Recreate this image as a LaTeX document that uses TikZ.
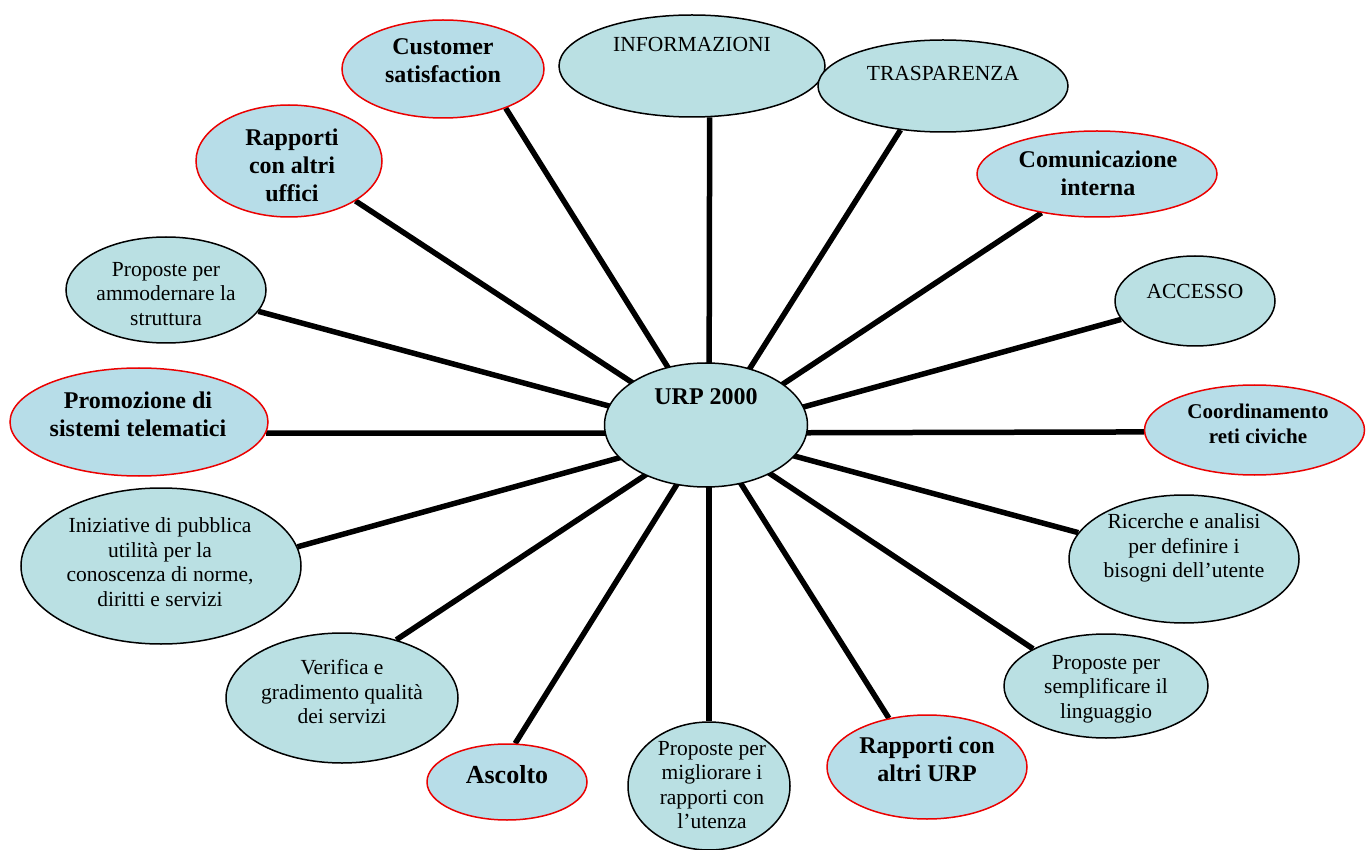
\documentclass[tikz,border=0pt]{standalone}
\usepackage{fontspec}
\setmainfont{Liberation Serif}
\usetikzlibrary{shapes.geometric,backgrounds}
\definecolor{bfill}{RGB}{186,224,227}
\definecolor{rfill}{RGB}{183,221,232}
\definecolor{rline}{RGB}{235,0,0}
\tikzset{
 bub/.style={ellipse, draw=black, line width=1.5pt, fill=bfill, inner sep=0pt},
 rbub/.style={ellipse, draw=rline, line width=1.5pt, fill=rfill, inner sep=0pt},
 sz/.style 2 args={minimum width=#1, minimum height=#2},
 btxt/.style={font=\bfseries\fontsize{24}{28}\selectfont, align=center, inner sep=0pt},
 ctxt/.style={font=\bfseries\fontsize{21}{25}\selectfont, align=center, inner sep=0pt},
 atxt/.style={font=\bfseries\fontsize{26}{30}\selectfont, align=center, inner sep=0pt},
 rtxt/.style={font=\fontsize{21.5}{24.5}\selectfont, align=center, inner sep=0pt},
 spoke/.style={line width=5.5pt}
}
\begin{document}
\begin{tikzpicture}[x=1pt,y=-1pt]
\useasboundingbox (0,0) rectangle (1366,850);
\coordinate (hub) at (709,433);
% bubbles
\node[bub, sz={203pt}{124pt}] (urp) at (706,425) {};
\node[bub, sz={266pt}{102pt}] (info) at (692,66) {};
\node[bub, sz={250pt}{92pt}] (tras) at (943,86) {};
\node[rbub, sz={202pt}{98pt}] (cust) at (443,69) {};
\node[rbub, sz={186pt}{112pt}] (uff) at (289,161) {};
\node[rbub, sz={240pt}{86pt}] (com) at (1097,174) {};
\node[bub, sz={200pt}{106pt}] (amm) at (166,290) {};
\node[bub, sz={160pt}{90pt}] (acc) at (1195,301) {};
\node[rbub, sz={258pt}{108pt}] (prom) at (139,422) {};
\node[rbub, sz={220pt}{90pt}] (coord) at (1254.5,430) {};
\node[bub, sz={280pt}{156pt}] (ini) at (161,566) {};
\node[bub, sz={230pt}{128pt}] (ric) at (1184,559) {};
\node[bub, sz={232pt}{130pt}] (ver) at (342,698) {};
\node[bub, sz={204pt}{104pt}] (sem) at (1106,686) {};
\node[rbub, sz={160pt}{76pt}] (asc) at (507,782) {};
\node[bub, sz={162pt}{128pt}] (mig) at (709,786) {};
\node[rbub, sz={200pt}{104pt}] (urpb) at (927,767) {};
% spokes
\begin{pgfonlayer}{background}
\fill[white] (0,0) rectangle (1366,850);
\draw[spoke] (hub) -- (info.-71.6);
\draw[spoke] (hub) -- (tras.226);
\draw[spoke] (hub) -- (cust.-32);
\draw[spoke] (hub) -- (uff.-31);
\draw[spoke] (hub) -- (com.215);
\draw[spoke] (hub) -- (amm.-13);
\draw[spoke] (hub) -- (acc.194);
\draw[spoke] (hub) -- (prom.-5);
\draw[spoke] (hub) -- (coord.181.6);
\draw[spoke] (hub) -- (ini.8.6);
\draw[spoke] (hub) -- (ric.166);
\draw[spoke] (hub) -- (ver.47.7);
\draw[spoke] (hub) -- (sem.153);
\draw[spoke] (hub) -- (asc.78);
\draw[spoke] (hub) -- (mig.90);
\draw[spoke] (hub) -- (urpb.128.7);
\end{pgfonlayer}
% texts
\node[btxt] (urpt) at (706,397) {URP 2000};
\node[rtxt] (infot) at (692,44) {INFORMAZIONI};
\node[rtxt] (trast) at (943,73) {TRASPARENZA};
\node[btxt] (custt) at (443,61) {Customer\\satisfaction};
\node[btxt] (ufft) at (292,165) {Rapporti\\con altri\\uffici};
\node[btxt] (comt) at (1098,173) {Comunicazione\\interna};
\node[rtxt] (ammt) at (166,294) {Proposte per\\ammodernare la\\struttura};
\node[rtxt] (acct) at (1195,291) {ACCESSO};
\node[btxt] (promt) at (138,414) {Promozione di\\sistemi telematici};
\node[ctxt] (coordt) at (1258,424) {Coordinamento\\reti civiche};
\node[rtxt] (init) at (160,562) {Iniziative di pubblica\\utilità per la\\conoscenza di norme,\\diritti e servizi};
\node[rtxt] (rict) at (1184,548) {Ricerche e analisi\\per definire i\\bisogni dell’utente};
\node[rtxt] (vert) at (342,692) {Verifica e\\gradimento qualità\\dei servizi};
\node[rtxt] (semt) at (1106,689) {Proposte per\\semplificare il\\linguaggio};
\node[atxt] (asct) at (507,775) {Ascolto};
\node[rtxt] (migt) at (712,785) {Proposte per\\migliorare i\\rapporti con\\l’utenza};
\node[btxt] (urpbt) at (927,759) {Rapporti con\\altri URP};
\end{tikzpicture}
\end{document}
